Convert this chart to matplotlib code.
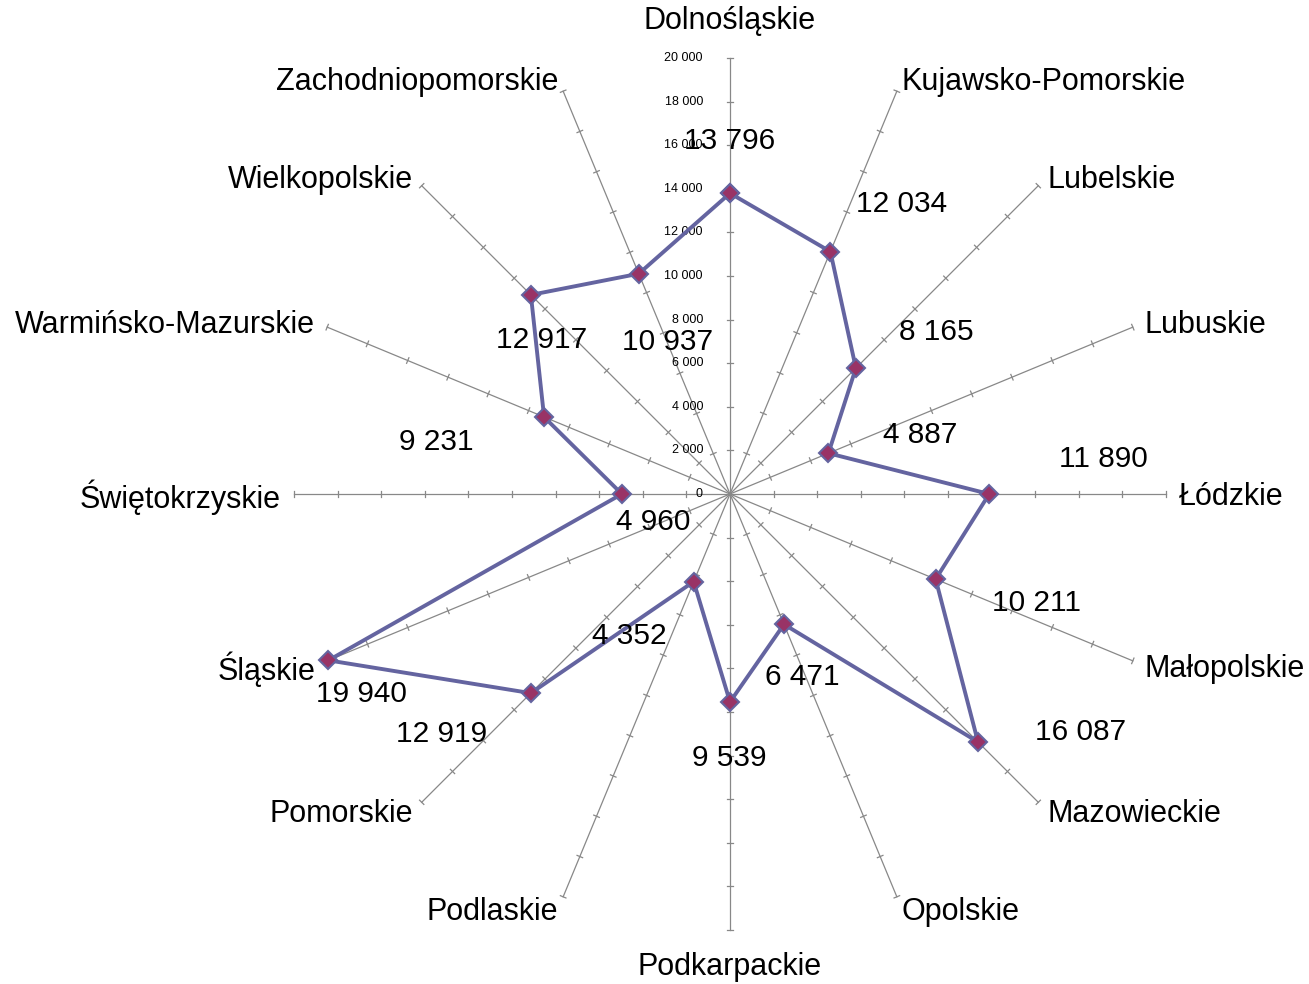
import numpy as np
import matplotlib.pyplot as plt

plt.rcParams['font.family'] = ['Liberation Sans', 'DejaVu Sans']

regions = ['Dolnośląskie', 'Kujawsko-Pomorskie', 'Lubelskie', 'Lubuskie', 'Łódzkie',
           'Małopolskie', 'Mazowieckie', 'Opolskie', 'Podkarpackie', 'Podlaskie',
           'Pomorskie', 'Śląskie', 'Świętokrzyskie', 'Warmińsko-Mazurskie',
           'Wielkopolskie', 'Zachodniopomorskie']
values = [13796, 12034, 8165, 4887, 11890, 10211, 16087, 6471,
          9539, 4352, 12919, 19940, 4960, 9231, 12917, 10937]
ticks = list(range(0, 20001, 2000))
tick_labels = ['0', '2 000', '4 000', '6 000', '8 000', '10 000', '12 000',
               '14 000', '16 000', '18 000', '20 000']

# label offsets from each point, in pixels (dx right, dy down)
label_off = [(0, -55), (71, -51), (80, -39), (92, -21), (114, -38), (101, 21),
             (103, -13), (18, 50), (-1, 53), (-64, 51), (-89, 38), (33, 31),
             (31, 25), (-108, 22), (11, 42), (29, 65)]

W, H, dpi = 1309, 984, 100
cx, cy, rad = 730, 494, 436          # centre and radius (px) of the radar
rmax = 20000
u = rmax / rad                       # data units per pixel
shift = 3 * u                        # nudge text down a little

fig = plt.figure(figsize=(W / dpi, H / dpi), dpi=dpi)
ax = fig.add_axes([0, 0, 1, 1])
ax.set_xlim(-cx * u, (W - cx) * u)
ax.set_ylim(-(H - cy) * u, cy * u)
ax.axis('off')

n = len(regions)
ang = np.arange(n) * 2 * np.pi / n
sx, sy = np.sin(ang), np.cos(ang)

# spokes with small cross ticks
tl = 3 * u
for i in range(n):
    ax.plot([0, rmax * sx[i]], [0, rmax * sy[i]], color='#888888', lw=0.9, zorder=1)
    for t in ticks[1:]:
        px, py = t * sx[i], t * sy[i]
        ax.plot([px - tl * sy[i], px + tl * sy[i]], [py + tl * sx[i], py - tl * sx[i]],
                color='#888888', lw=0.9, zorder=1)

# value axis labels on the top spoke
for t, lab in zip(ticks, tick_labels):
    ax.text(-27 * u, t, lab, ha='right', va='center', fontsize=9)

# category labels
for i, name in enumerate(regions):
    if abs(sx[i]) < 0.01:
        r = rmax + 22 * u
        va = 'bottom' if sy[i] > 0 else 'top'
        ax.text(0, r * sy[i], name, ha='center', va=va, fontsize=22)
    else:
        r = rmax + 13 * u
        ha = 'left' if sx[i] > 0 else 'right'
        ax.text(r * sx[i], r * sy[i] - shift, name, ha=ha, va='center', fontsize=22)

# data series
xs = np.array(values) * sx
ys = np.array(values) * sy
ax.plot(np.append(xs, xs[0]), np.append(ys, ys[0]), color='#6464A0', lw=2.8,
        marker='D', ms=9, mfc='#993366', mec='#6464A0', mew=1.5, zorder=3)

for i, v in enumerate(values):
    dx, dy = label_off[i]
    ax.text(xs[i] + dx * u, ys[i] - dy * u - shift, f'{v:,}'.replace(',', ' '),
            ha='center', va='center', fontsize=21.5, zorder=4)

fig.savefig('out.png', dpi=dpi)
